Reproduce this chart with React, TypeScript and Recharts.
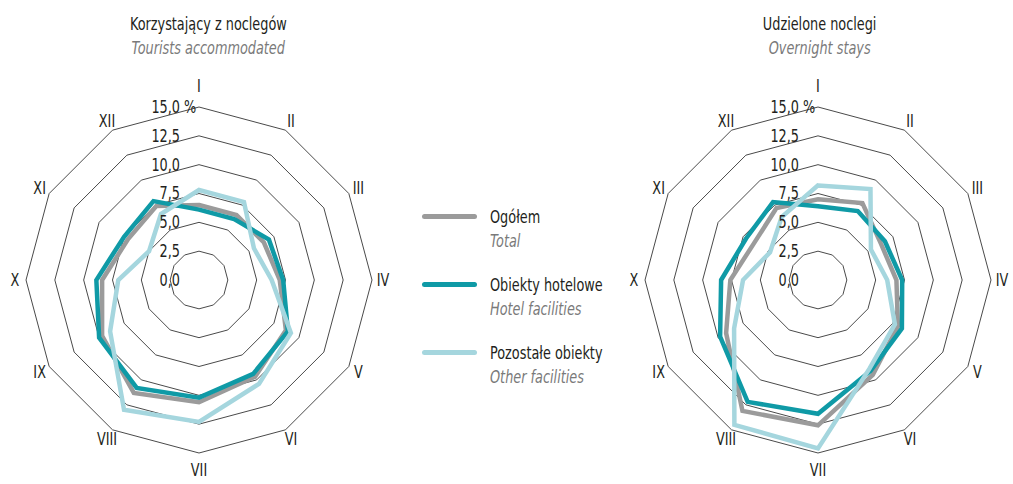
import React from 'react';
import { RadarChart, Radar, PolarGrid, PolarAngleAxis, PolarRadiusAxis } from 'recharts';

const months = ['I', 'II', 'III', 'IV', 'V', 'VI', 'VII', 'VIII', 'IX', 'X', 'XI', 'XII'];
const radiusTicks = [0, 2.5, 5, 7.5, 10, 12.5, 15];

// Korzystający z noclegów / Tourists accommodated (% of year)
const touristsTotal = [6.5, 6.5, 6.5, 7.0, 8.7, 9.7, 10.6, 11.3, 9.7, 8.4, 7.1, 7.4];
const touristsHotel = [6.1, 6.1, 7.0, 7.3, 8.9, 9.4, 10.2, 10.8, 10.0, 8.9, 7.5, 7.9];
const touristsOther = [7.8, 7.8, 5.5, 6.3, 9.2, 10.4, 12.3, 13.0, 8.9, 7.0, 5.0, 6.6];

// Udzielone noclegi / Overnight stays
const staysTotal = [7.0, 7.7, 6.3, 6.8, 8.0, 9.5, 12.6, 13.1, 9.2, 7.6, 6.4, 7.2];
const staysHotel = [6.4, 6.9, 6.7, 7.3, 8.4, 9.1, 11.6, 12.2, 9.8, 8.4, 7.2, 7.8];
const staysOther = [8.2, 9.1, 5.3, 6.0, 7.7, 8.9, 14.6, 14.5, 8.4, 6.5, 4.8, 6.3];

const FONT = "'DejaVu Sans Condensed', 'Liberation Sans Narrow', sans-serif";
const SQUEEZE = 0.84; // the original uses a condensed face, narrow the glyphs a bit more
const GREY = '#9b9b9b';
const TEAL = '#0f9aa6';
const LIGHT = '#a5d6de';
const TEXT = '#231f20';
const SUB = '#7a7a7a';

const buildRows = (total: number[], hotel: number[], other: number[]) =>
  months.map((m, i) => ({ month: m, total: total[i], hotel: hotel[i], other: other[i] }));

// svg text squeezed horizontally around its anchor point
const NarrowText = ({ x, y, anchor, children }: any) => (
  <text
    transform={`translate(${x},${y}) scale(${SQUEEZE},1)`}
    textAnchor={anchor}
    dominantBaseline="central"
    fill={TEXT}
    fontSize={17}
    fontFamily={FONT}
  >
    {children}
  </text>
);

const MonthTick = (props: any) => {
  const { x, y, payload } = props;
  const rad = (payload.coordinate * Math.PI) / 180;
  const s = Math.sin(rad);
  let extra = 3;
  if (s > 0.99) extra = 13;
  if (s < -0.99) extra = 9;
  return (
    <NarrowText x={x + Math.cos(rad) * extra} y={y - s * extra} anchor="middle">
      {payload.value}
    </NarrowText>
  );
};

const RadiusTick = (props: any) => {
  const { x, y, payload } = props;
  const label = Number(payload.value).toFixed(1).replace('.', ',');
  return (
    <g>
      <NarrowText x={x - 19} y={y} anchor="end">
        {label}
      </NarrowText>
      {payload.value === 15 && (
        <NarrowText x={x - 15} y={y} anchor="start">
          %
        </NarrowText>
      )}
    </g>
  );
};

const MonthRadar = ({ data }: { data: any[] }) => (
  <RadarChart
    width={400}
    height={484}
    cx={200}
    cy={280}
    outerRadius={173}
    data={data}
    margin={{ top: 0, right: 0, bottom: 0, left: 0 }}
    style={{ overflow: 'visible' }}
  >
    <PolarGrid gridType="polygon" radialLines={false} stroke="#4a4a4a" strokeWidth={1} />
    <PolarAngleAxis dataKey="month" tick={<MonthTick />} axisLine={false} tickLine={false} />
    <PolarRadiusAxis
      angle={90}
      type="number"
      domain={[0, 15]}
      ticks={radiusTicks}
      tickCount={7}
      axisLine={false}
      tickLine={false}
      tick={<RadiusTick />}
    />
    <Radar dataKey="total" stroke={GREY} strokeWidth={4.5} fill="none" fillOpacity={0} dot={false} isAnimationActive={false} />
    <Radar dataKey="hotel" stroke={TEAL} strokeWidth={4.5} fill="none" fillOpacity={0} dot={false} isAnimationActive={false} />
    <Radar dataKey="other" stroke={LIGHT} strokeWidth={4.5} fill="none" fillOpacity={0} dot={false} isAnimationActive={false} />
  </RadarChart>
);

const legendItems = [
  { color: GREY, pl: 'Ogółem', en: 'Total' },
  { color: TEAL, pl: 'Obiekty hotelowe', en: 'Hotel facilities' },
  { color: LIGHT, pl: 'Pozostałe obiekty', en: 'Other facilities' },
];

const narrowStyle = (origin: string): React.CSSProperties => ({
  display: 'inline-block',
  transform: `scaleX(${SQUEEZE})`,
  transformOrigin: origin,
  whiteSpace: 'nowrap',
});

const Title = ({ left, width, pl, en }: { left: number; width: number; pl: string; en: string }) => (
  <div style={{ position: 'absolute', left, top: 12, width, textAlign: 'center', fontSize: 17, lineHeight: '24px' }}>
    <div style={{ color: TEXT }}>
      <span style={narrowStyle('center')}>{pl}</span>
    </div>
    <div style={{ color: SUB, fontStyle: 'italic' }}>
      <span style={narrowStyle('center')}>{en}</span>
    </div>
  </div>
);

export default function App() {
  const touristsRows = buildRows(touristsTotal, touristsHotel, touristsOther);
  const staysRows = buildRows(staysTotal, staysHotel, staysOther);

  return (
    <div style={{ position: 'fixed', left: 0, top: 0, width: 1013, height: 484, background: '#fff', fontFamily: FONT, overflow: 'hidden' }}>
      <div style={{ position: 'absolute', left: -1, top: 0 }}>
        <MonthRadar data={touristsRows} />
      </div>
      <div style={{ position: 'absolute', left: 618, top: 0 }}>
        <MonthRadar data={staysRows} />
      </div>
      <Title left={0} width={416} pl="Korzystający z noclegów" en="Tourists accommodated" />
      <Title left={620} width={400} pl="Udzielone noclegi" en="Overnight stays" />
      {legendItems.map((item, i) => (
        <div key={item.pl} style={{ position: 'absolute', left: 420, top: 205 + i * 68, width: 200, height: 60 }}>
          <div style={{ position: 'absolute', left: 2, top: 9, width: 55, height: 5, borderRadius: 3, background: item.color }} />
          <div style={{ position: 'absolute', left: 70, top: 0, fontSize: 17, lineHeight: '24px' }}>
            <div style={{ color: TEXT }}>
              <span style={narrowStyle('left')}>{item.pl}</span>
            </div>
            <div style={{ color: SUB, fontStyle: 'italic' }}>
              <span style={narrowStyle('left')}>{item.en}</span>
            </div>
          </div>
        </div>
      ))}
    </div>
  );
}
